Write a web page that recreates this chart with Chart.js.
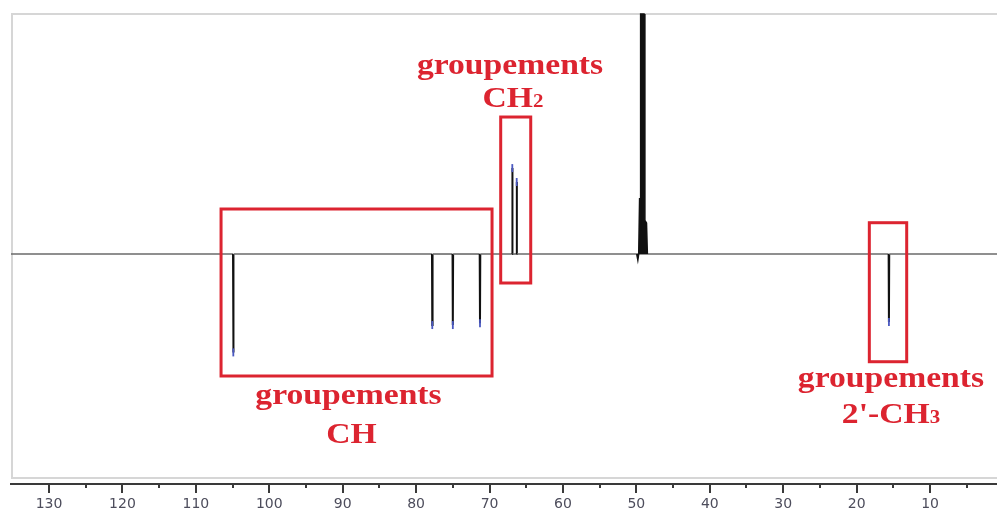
<!DOCTYPE html>
<html>
<head>
<meta charset="utf-8">
<script src="https://cdn.jsdelivr.net/npm/chart.js@4.4.1/dist/chart.umd.min.js"></script>
<style>
  html, body { margin: 0; padding: 0; background: #ffffff; }
  canvas { display: block; }
</style>
</head>
<body>
<canvas id="spectrum" width="997" height="513"></canvas>
<script>
// 13C DEPT-135 spectrum: CH / CH3 point down, CH2 point up, solvent at ~49 ppm.
const shiftRange = [135.18, 0.88];          // ppm shown, left to right
const intensityRange = [-95.83, 100.42];    // relative intensity

// resolved signals (ppm, relative intensity)
const peakShift  = [104.9, 77.8, 75.0, 71.3, 66.9, 66.3, 15.6];
const peakHeight = [-41.0, -29.6, -29.6, -28.8, 35.8, 30.0, -28.3];

// solvent multiplet trace around 49 ppm
const solventShift  = [49.95, 49.80, 49.68, 49.56, 49.50, 49.42, 48.96, 48.84, 48.62, 48.50];
const solventHeight = [0, -2.5, 0, 23.3, 10.0, 100, 100, 14.0, 12.9, 0];

// axis ticks (ppm)
const majorTicks = [130, 120, 110, 100, 90, 80, 70, 60, 50, 40, 30, 20, 10];
const minorTicks = [125, 115, 105, 95, 85, 75, 65, 55, 45, 35, 25, 15, 5];

// assignment group labels: first line, then runs of the second line ([text, subscript])
const groupLabels = [
  ['groupements', [['CH', false], ['2', true]]],
  ['groupements', [['CH', false]]],
  ['groupements', [["2'-CH", false], ['3', true]]]
];

// ---- build the trace from the signal lists ----
const events = [];
peakShift.forEach((s, i) => {
  events.push({ x: s + 0.04, y: 0 }, { x: s, y: peakHeight[i] }, { x: s - 0.04, y: 0 });
});
events.sort((a, b) => b.x - a.x);
const trace = [{ x: shiftRange[0], y: 0 }, ...events, { x: shiftRange[1], y: 0 }];
const solventTrace = solventShift.map((s, i) => ({ x: s, y: solventHeight[i] }));
const tips = peakShift.map((s, i) => ({ x: s, y: peakHeight[i] }));

// ---- annotation layout (data coordinates) ----
const frames = [
  { x0: 106.57, x1: 69.66, y0: 18.75, y1: -50.83 },   // CH
  { x0: 68.48,  x1: 64.39, y0: 57.08, y1: -12.08 },   // CH2
  { x0: 18.27,  x1: 13.18, y0: 13.04, y1: -44.88 }    // 2'-CH3
];
const labelAnchors = [
  { x1: 67.21, y1: 74.8, x2: 66.80, y2: 61.25, ref: 0 },
  { x1: 89.21, y1: -62.5, x2: 88.80, y2: -78.75, ref: 1 },
  { x1: 15.32, y1: -55.6, x2: 15.32, y2: -70.42, ref: 2 }
];

const RED = '#dc2430';
const LABEL_FONT = 'bold 29px "Liberation Serif", "Times New Roman", serif';
const SUB_FONT = 'bold 18px "Liberation Serif", "Times New Roman", serif';
const STRETCH = 1.16;

function drawRuns(ctx, runs, cx, baseline) {
  let total = 0;
  const widths = runs.map(([t, sub]) => {
    ctx.font = sub ? SUB_FONT : LABEL_FONT;
    const w = ctx.measureText(t).width;
    total += w;
    return w;
  });
  ctx.save();
  ctx.translate(cx, baseline);
  ctx.scale(STRETCH, 1);
  ctx.textBaseline = 'alphabetic';
  ctx.textAlign = 'left';
  let x = -total / 2;
  runs.forEach(([t, sub], i) => {
    ctx.font = sub ? SUB_FONT : LABEL_FONT;
    ctx.fillText(t, x, 0);
    x += widths[i];
  });
  ctx.restore();
}

const decorations = {
  id: 'decorations',
  beforeDatasetsDraw(chart) {
    const { ctx, chartArea } = chart;
    // light plot frame (open on the right)
    ctx.save();
    ctx.strokeStyle = '#d6d6d6';
    ctx.lineWidth = 2;
    ctx.strokeRect(chartArea.left + 1, chartArea.top + 1, chartArea.right - chartArea.left + 10, chartArea.bottom - chartArea.top - 7);
    ctx.restore();
  },
  afterDraw(chart) {
    const { ctx, chartArea, scales: { x, y } } = chart;
    ctx.save();
    // axis tick marks
    ctx.strokeStyle = '#3a3a3a';
    ctx.lineWidth = 2;
    majorTicks.forEach(v => {
      const px = Math.round(x.getPixelForValue(v));
      ctx.beginPath(); ctx.moveTo(px, chartArea.bottom); ctx.lineTo(px, chartArea.bottom + 9); ctx.stroke();
    });
    minorTicks.forEach(v => {
      const px = Math.round(x.getPixelForValue(v));
      ctx.beginPath(); ctx.moveTo(px, chartArea.bottom); ctx.lineTo(px, chartArea.bottom + 4); ctx.stroke();
    });
    // assignment frames
    ctx.strokeStyle = RED;
    ctx.lineWidth = 3;
    frames.forEach(f => {
      const l = x.getPixelForValue(f.x0), r = x.getPixelForValue(f.x1);
      const t = y.getPixelForValue(f.y0), b = y.getPixelForValue(f.y1);
      ctx.strokeRect(l, t, r - l, b - t);
    });
    // assignment labels
    ctx.fillStyle = RED;
    labelAnchors.forEach(a => {
      const [line1, runs2] = groupLabels[a.ref];
      drawRuns(ctx, [[line1, false]], x.getPixelForValue(a.x1), y.getPixelForValue(a.y1));
      drawRuns(ctx, runs2, x.getPixelForValue(a.x2), y.getPixelForValue(a.y2));
    });
    ctx.restore();
  }
};

new Chart(document.getElementById('spectrum'), {
  type: 'scatter',
  data: {
    datasets: [
      {
        data: trace,
        showLine: true,
        tension: 0,
        pointRadius: 0,
        borderColor: '#111111',
        borderWidth: 2,
        segment: {
          borderColor: c => (c.p0.parsed.y === 0 && c.p1.parsed.y === 0) ? '#6a6a6a' : '#111111',
          borderWidth: c => (c.p0.parsed.y === 0 && c.p1.parsed.y === 0) ? 1.6 : 2
        },
        order: 3
      },
      {
        data: solventTrace,
        showLine: true,
        tension: 0,
        pointRadius: 0,
        borderColor: '#111111',
        borderWidth: 1.5,
        fill: 'origin',
        backgroundColor: '#111111',
        order: 2
      },
      {
        data: tips,
        showLine: false,
        pointStyle: 'line',
        rotation: 90,
        pointRadius: 4,
        borderColor: '#4a58c0',
        borderWidth: 1.8,
        order: 1
      }
    ]
  },
  options: {
    responsive: false,
    devicePixelRatio: 1,
    animation: false,
    events: [],
    layout: { autoPadding: false, padding: { left: 11, top: 13, right: 0, bottom: 0 } },
    plugins: { legend: { display: false }, tooltip: { enabled: false }, filler: { propagate: false } },
    scales: {
      x: {
        type: 'linear',
        reverse: true,
        min: shiftRange[1],
        max: shiftRange[0],
        afterFit: s => { s.height = 29; s.paddingLeft = 0; s.paddingRight = 0; },
        afterBuildTicks: s => { s.ticks = majorTicks.map(v => ({ value: v })); },
        grid: { display: false, drawTicks: false },
        border: { display: true, color: '#3a3a3a', width: 2 },
        ticks: {
          padding: 12,
          autoSkip: false,
          maxRotation: 0,
          color: '#4d4d5c',
          font: { family: '"DejaVu Sans", Verdana, sans-serif', size: 14 },
          callback: v => String(v)
        }
      },
      y: {
        display: false,
        min: intensityRange[0],
        max: intensityRange[1]
      }
    }
  },
  plugins: [decorations]
});
</script>
</body>
</html>
